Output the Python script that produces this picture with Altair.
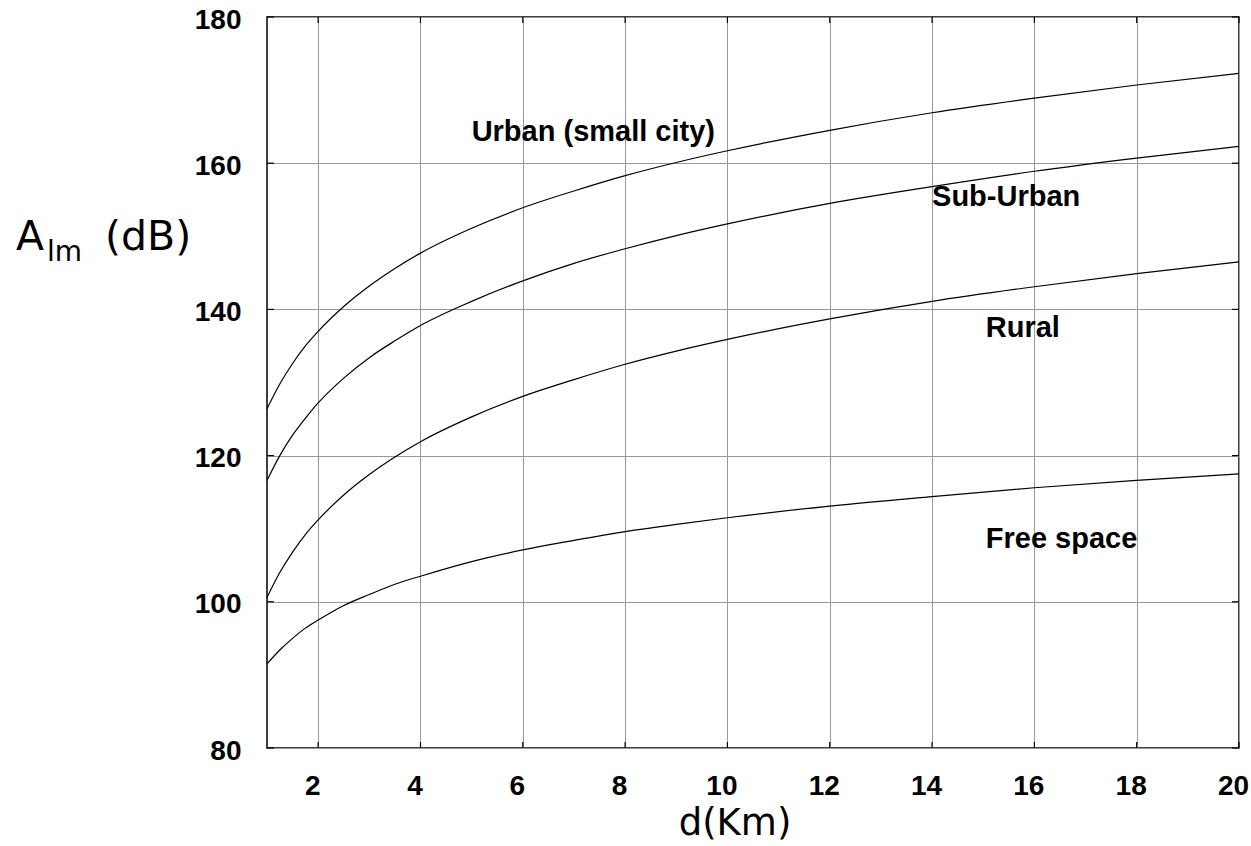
import altair as alt
import pandas as pd

# distance (km)
d = [1, 1.25, 1.5, 1.75, 2, 2.5, 3, 3.5, 4, 5, 6, 7, 8, 9, 10, 12, 14, 16, 18, 20]
urban = [126.4, 129.8, 132.6, 135.0, 137.0, 140.4, 143.2, 145.6, 147.7, 151.1,
         153.9, 156.2, 158.3, 160.1, 161.7, 164.5, 166.9, 168.9, 170.7, 172.3]
suburban = [116.6, 120.0, 122.8, 125.1, 127.2, 130.6, 133.4, 135.7, 137.8, 141.1,
            143.9, 146.3, 148.3, 150.1, 151.7, 154.5, 156.8, 158.9, 160.7, 162.3]
rural = [100.6, 104.0, 106.8, 109.2, 111.2, 114.6, 117.4, 119.8, 121.9, 125.3,
         128.1, 130.4, 132.5, 134.3, 135.9, 138.7, 141.1, 143.1, 144.9, 146.5]
free = [91.5, 93.4, 95.0, 96.4, 97.5, 99.5, 101.0, 102.4, 103.5, 105.5,
        107.1, 108.4, 109.6, 110.6, 111.5, 113.1, 114.4, 115.6, 116.6, 117.5]

series_names = ["Urban (small city)", "Sub-Urban", "Rural", "Free space"]
label_d = [5.0, 14.0, 15.05, 15.05]
label_db = [164.2, 155.4, 137.5, 108.6]

x_ticks = [2, 4, 6, 8, 10, 12, 14, 16, 18, 20]
y_ticks = [80, 100, 120, 140, 160, 180]

W, H = 972, 731

rows = []
for name, vals in zip(series_names, [urban, suburban, rural, free]):
    for xi, yi in zip(d, vals):
        rows.append({"d": xi, "A": yi, "series": name})
df = pd.DataFrame(rows)
labels_df = pd.DataFrame({"d": label_d, "A": label_db, "text": series_names})

xs = alt.Scale(domain=[1, 20], nice=False)
ys = alt.Scale(domain=[80, 180], nice=False)

lines = alt.Chart(df).mark_line(color="black", strokeWidth=1.2, interpolate="monotone").encode(
    x=alt.X("d:Q", scale=xs,
            axis=alt.Axis(values=x_ticks, title=None, labelOffset=-6, labelFlush=False,
                          labelPadding=24)),
    y=alt.Y("A:Q", scale=ys,
            axis=alt.Axis(values=y_ticks, title=None, labelOffset=3, labelPadding=26)),
    detail="series:N",
)

curve_labels = alt.Chart(labels_df).mark_text(
    align="left", baseline="middle", font="Liberation Sans", fontWeight="bold",
    fontSize=29, color="black"
).encode(x=alt.X("d:Q", scale=xs), y=alt.Y("A:Q", scale=ys), text="text:N")

# inward tick marks
xt_df = pd.DataFrame({"d": x_ticks})
yt_df = pd.DataFrame({"A": y_ticks})
tick_style = dict(color="black", strokeWidth=1.2)
xt_bottom = alt.Chart(xt_df).mark_rule(**tick_style).encode(
    x=alt.X("d:Q", scale=xs), y=alt.value(H), y2=alt.value(H - 6))
xt_top = alt.Chart(xt_df).mark_rule(**tick_style).encode(
    x=alt.X("d:Q", scale=xs), y=alt.value(0), y2=alt.value(6))
yt_left = alt.Chart(yt_df).mark_rule(**tick_style).encode(
    y=alt.Y("A:Q", scale=ys), x=alt.value(0), x2=alt.value(7))
yt_right = alt.Chart(yt_df).mark_rule(**tick_style).encode(
    y=alt.Y("A:Q", scale=ys), x=alt.value(W), x2=alt.value(W - 7))

title_font = "DejaVu Sans"
x_title = alt.Chart(pd.DataFrame({"t": ["d(Km)"]})).mark_text(
    align="center", baseline="alphabetic", font=title_font, fontSize=37, color="black"
).encode(x=alt.value(468), y=alt.value(818), text="t:N")
y_title_a = alt.Chart(pd.DataFrame({"t": ["A"]})).mark_text(
    align="left", baseline="alphabetic", font=title_font, fontSize=41, color="black"
).encode(x=alt.value(-251), y=alt.value(233), text="t:N")
y_title_sub = alt.Chart(pd.DataFrame({"t": ["lm"]})).mark_text(
    align="left", baseline="alphabetic", font=title_font, fontSize=28, color="black"
).encode(x=alt.value(-220), y=alt.value(244), text="t:N")
y_title_db = alt.Chart(pd.DataFrame({"t": ["(dB)"]})).mark_text(
    align="left", baseline="alphabetic", font=title_font, fontSize=41, color="black"
).encode(x=alt.value(-162), y=alt.value(233), text="t:N")

chart = alt.layer(
    lines, curve_labels, xt_bottom, xt_top, yt_left, yt_right,
    x_title, y_title_a, y_title_sub, y_title_db
).properties(
    width=W, height=H,
    autosize=alt.AutoSizeParams(type="none"),
    padding={"left": 267, "top": 17, "right": 12, "bottom": 98},
    background="white",
).configure_view(
    stroke="black", strokeWidth=1.5
).configure_axis(
    labelFont="Liberation Sans", labelFontWeight="bold", labelFontSize=28,
    labelColor="black", grid=True, gridColor="#999999", gridWidth=1,
    domain=False, ticks=False
)

chart.save("out.html", embed_options={"renderer": "svg", "actions": False})
